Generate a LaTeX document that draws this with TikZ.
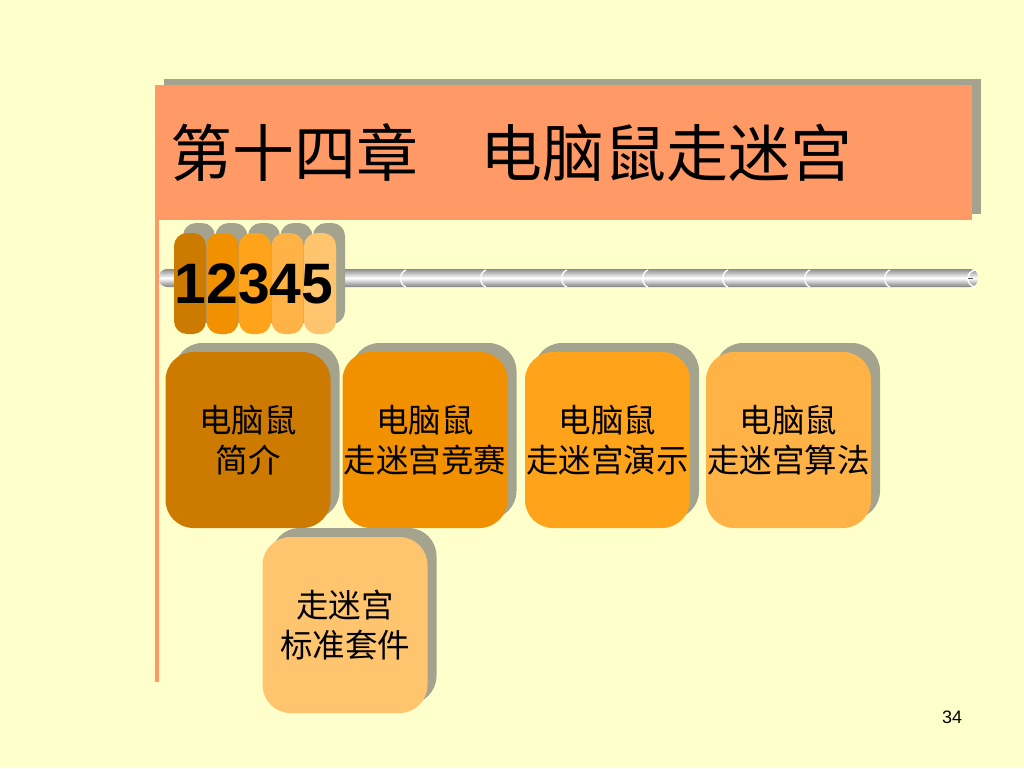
\documentclass[tikz,border=0pt]{standalone}
\usepackage{fontspec}
\usepackage{xcolor}
\usetikzlibrary{shadows}
\newfontfamily\cjk{Noto Sans CJK SC}
\newfontfamily\arial{Liberation Sans}
\definecolor{slidebg}{HTML}{FFFFCC}
\definecolor{salmon}{HTML}{FF9966}
\definecolor{shadowgray}{HTML}{A3A38E}
\definecolor{tone1}{HTML}{CC7A00}
\definecolor{tone2}{HTML}{F29100}
\definecolor{tone3}{HTML}{FFA31A}
\definecolor{tone4}{HTML}{FFB347}
\definecolor{tone5}{HTML}{FFC46E}

\begin{document}
\begin{tikzpicture}[
x=1pt, y=-1pt,
topic/.style={rounded corners=28pt, minimum width=165pt, minimum height=176pt, align=center,
  font=\cjk\fontsize{32.5}{40}\selectfont, inner sep=0pt,
  drop shadow={shadow xshift=9pt, shadow yshift=9pt, fill=shadowgray, opacity=1}},
bead/.style={rounded corners=13pt, minimum width=32pt, minimum height=101pt, inner sep=0pt,
  drop shadow={shadow xshift=9pt, shadow yshift=10pt, fill=shadowgray, opacity=1}}
]
% slide background
\fill[slidebg] (0,0) rectangle (1024,768);
\useasboundingbox (0,0) rectangle (1024,768);

% title bar
\node[fill=salmon, minimum width=817pt, minimum height=135pt, text width=787pt, inner xsep=15pt,
  align=left, font=\cjk\fontsize{62}{62}\selectfont,
  drop shadow={shadow xshift=9pt, shadow yshift=6pt, fill=shadowgray, opacity=1}]
  (title) at (563.5,152.5) {第十四章　电脑鼠走迷宫};
\draw[salmon, line width=4pt] (157,220) -- (157,682);

% rod
\shade[top color=gray!90, bottom color=gray, middle color=white, rounded corners=8pt]
  (159,269) rectangle (978,287);
\foreach \x in {401,481,562,643,723,805,885}
  \draw[white, line width=1.3pt] (\x+5,270) .. controls (\x-2,272) and (\x-2,285) .. (\x+5,287);
\draw[white, line width=1.3pt] (976,270) .. controls (965,271) and (965,286) .. (976,287);
\draw[gray!70!black, line width=0.7pt] (968,278) -- (973,278);

% beads
\foreach \i in {1,...,5}
  \node[bead, fill=tone\i] (bead\i) at ({190+32.5*(\i-1)},283.5) {};
\node[font=\arial\bfseries\fontsize{57}{57}\selectfont, inner sep=0pt] (digits) at (254,284) {12345};

% topic boxes
\node[topic, fill=tone1] (intro) at (248,440) {电脑鼠\\简介};
\node[topic, fill=tone2] (contest) at (425,440) {电脑鼠\\走迷宫竞赛};
\node[topic, fill=tone3] (demo) at (607.5,440) {电脑鼠\\走迷宫演示};
\node[topic, fill=tone4] (algo) at (788.5,440) {电脑鼠\\走迷宫算法};
\node[topic, fill=tone5] (kit) at (345,625) {走迷宫\\标准套件};

% page number
\node[font=\arial\fontsize{18}{18}\selectfont] (pagenum) at (952,717) {34};
\end{tikzpicture}
\end{document}
